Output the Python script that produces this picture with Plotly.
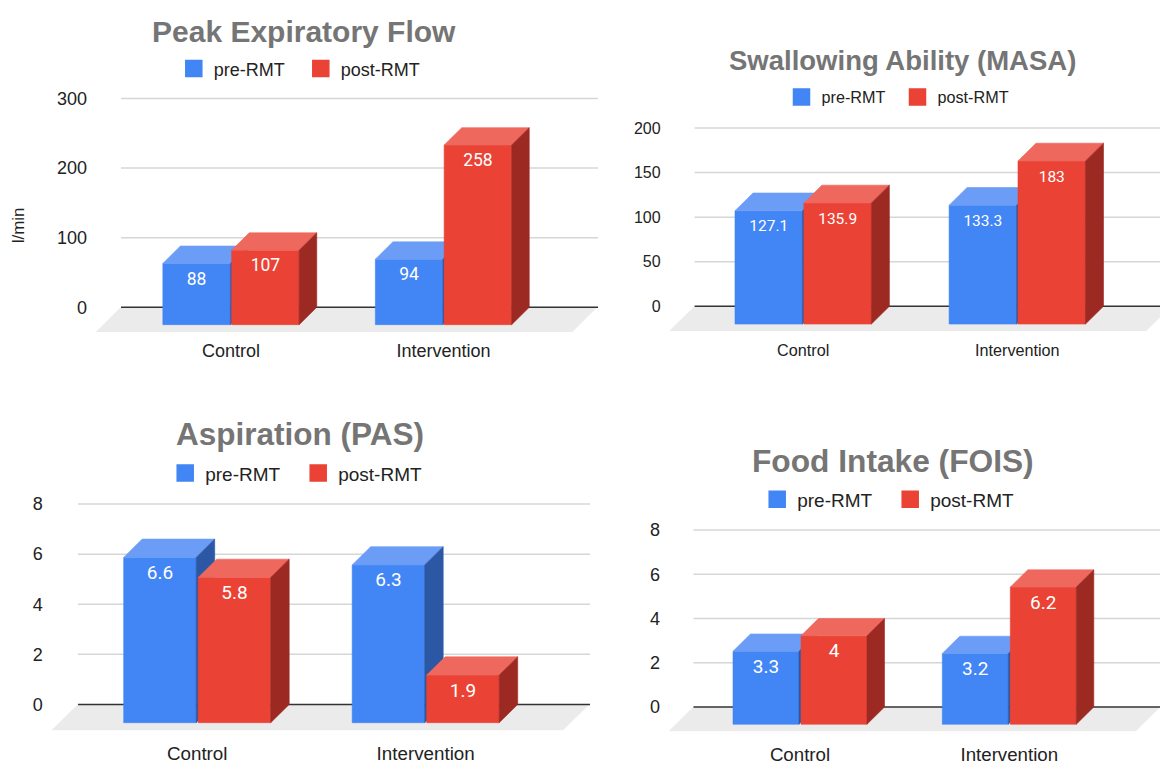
import plotly.graph_objects as go

W, H = 1160, 765

# ---- data -------------------------------------------------------------
categories = ["Control", "Intervention"]
series = ["pre-RMT", "post-RMT"]

pef_pre = [88, 94]
pef_post = [107, 258]
pef_ticks = [0, 100, 200, 300]

masa_pre = [127.1, 133.3]
masa_post = [135.9, 183]
masa_ticks = [0, 50, 100, 150, 200]

pas_pre = [6.6, 6.3]
pas_post = [5.8, 1.9]
pas_ticks = [0, 2, 4, 6, 8]

fois_pre = [3.3, 3.2]
fois_post = [4, 6.2]
fois_ticks = [0, 2, 4, 6, 8]

# ---- styling ----------------------------------------------------------
FONT = "Liberation Sans, Arial, Helvetica, sans-serif"
LABEL_FONT = "Roboto, Liberation Sans, sans-serif"
TEXT = "#222222"
TITLE = "#757575"

SHADES = [
    dict(front="#4285F4", top="#6B9DF6", side="#2C57A5"),
    dict(front="#EA4335", top="#EE685D", side="#9C2A22"),
]
FLOOR = "#EBEBEB"
GRID = "#D6D6D6"
BASELINE = "#333333"
LABEL_DROP = 17.0  # px from the top edge of a bar's front face to its label centre

# panel geometry in page pixels (x from left, y from top)
panels = [
    dict(title="Peak Expiratory Flow", data=(pef_pre, pef_post), ticks=pef_ticks, ytitle="l/min",
         zero=308.3, unit=211.6 / 300, cat0=231.0, step=212.5, bar=67.5, gap=1.3, depth=17.6,
         left=96.0, floor=25.0, floor_right=597.0, grid_right=598.0, right=600.0, top=88.0,
         title_at=(304.0, 28.8), title_size=30, legend_at=(193.8, 66.7), legend_size=18,
         legend_w=82, tick_size=18, cat_size=18, cat_standoff=6, label_size=17.5),
    dict(title="Swallowing Ability (MASA)", data=(masa_pre, masa_post), ticks=masa_ticks, ytitle=None,
         zero=307.3, unit=180.6 / 200, cat0=803.2, step=214.1, bar=67.5, gap=1.4, depth=18.0,
         left=669.6, floor=25.0, floor_right=1171.0, grid_right=1160.0, right=1160.0, top=120.0,
         title_at=(902.3, 57.8), title_size=27.5, legend_at=(801.5, 95.7), legend_size=16.2,
         legend_w=71, tick_size=16, cat_size=16.2, cat_standoff=8, label_size=15.5),
    dict(title="Aspiration (PAS)", data=(pas_pre, pas_post), ticks=pas_ticks, ytitle=None,
         zero=710.7, unit=203.0 / 8, cat0=197.2, step=228.5, bar=72.5, gap=2.0, depth=18.5,
         left=51.8, floor=26.2, floor_right=589.0, grid_right=590.0, right=592.0, top=500.0,
         title_at=(299.7, 437.2), title_size=31.5, legend_at=(185.2, 476.5), legend_size=19,
         legend_w=88, tick_size=18, cat_size=18.8, cat_standoff=10, label_size=19),
    dict(title="Food Intake (FOIS)", data=(fois_pre, fois_post), ticks=fois_ticks, ytitle=None,
         zero=713.3, unit=179.3 / 8, cat0=800.0, step=209.3, bar=66.0, gap=2.0, depth=17.5,
         left=669.0, floor=24.5, floor_right=1160.0, grid_right=1160.0, right=1160.0, top=527.0,
         title_at=(892.6, 463.8), title_size=31.7, legend_at=(777.2, 503.0), legend_size=19,
         legend_w=88, tick_size=18, cat_size=18.7, cat_standoff=10, label_size=19),
]

fig = go.Figure()
layout = dict(
    width=W, height=H, autosize=False,
    margin=dict(l=0, r=0, t=0, b=0, pad=0),
    paper_bgcolor="white", plot_bgcolor="rgba(0,0,0,0)",
    showlegend=True, annotations=[],
)


def poly(xs, ys, color, xa, ya):
    return go.Scatter(
        x=list(xs) + [xs[0]], y=list(ys) + [ys[0]], mode="lines", fill="toself",
        fillcolor=color, line=dict(color=color, width=0.6),
        xaxis=xa, yaxis=ya, showlegend=False, hoverinfo="skip",
    )


for i, p in enumerate(panels, start=1):
    sfx = "" if i == 1 else str(i)
    xa, ya = "x" + sfx, "y" + sfx
    bottom = p["zero"] + p["floor"]

    def x_of(px, p=p):
        return (px - p["cat0"]) / p["step"]

    def y_of(py, p=p):
        return (p["zero"] - py) / p["unit"]

    dx, dy = p["depth"] / p["step"], p["depth"] / p["unit"]
    fx, fy = p["floor"] / p["step"], p["floor"] / p["unit"]
    x_left, x_right = x_of(p["left"]), x_of(p["right"])
    x_back_left = x_left + fx
    x_grid_right = x_of(p["grid_right"])
    x_floor_right = x_of(p["floor_right"])

    # floor plane
    fig.add_trace(poly([x_left, x_floor_right - fx, x_floor_right, x_back_left],
                       [-fy, -fy, 0, 0], FLOOR, xa, ya))

    # gridlines on the back wall
    gx, gy = [], []
    for t in p["ticks"]:
        if t == 0:
            continue
        gx += [x_back_left, x_grid_right, None]
        gy += [t, t, None]
    fig.add_trace(go.Scatter(x=gx, y=gy, mode="lines", line=dict(color=GRID, width=1.5),
                             xaxis=xa, yaxis=ya, showlegend=False, hoverinfo="skip"))
    fig.add_trace(go.Scatter(x=[x_back_left, x_grid_right], y=[0, 0], mode="lines",
                             line=dict(color=BASELINE, width=1.5),
                             xaxis=xa, yaxis=ya, showlegend=False, hoverinfo="skip"))

    # 3-D bars, painted left to right
    lx, ly, lt = [], [], []
    for c in range(len(categories)):
        for j in range(len(series)):
            v = p["data"][j][c]
            off = -(p["bar"] + p["gap"] / 2) if j == 0 else p["gap"] / 2
            xl = c + off / p["step"]
            xr = xl + p["bar"] / p["step"]
            shade = SHADES[j]
            fig.add_trace(poly([xl, xr, xr, xl], [-dy, -dy, v - dy, v - dy], shade["front"], xa, ya))
            fig.add_trace(poly([xl, xr, xr + dx, xl + dx], [v - dy, v - dy, v, v], shade["top"], xa, ya))
            fig.add_trace(poly([xr, xr + dx, xr + dx, xr], [-dy, 0, v, v - dy], shade["side"], xa, ya))
            lx.append((xl + xr) / 2)
            ly.append(v - dy - LABEL_DROP / p["unit"])
            lt.append(f"{v:g}")

    fig.add_trace(go.Scatter(x=lx, y=ly, text=lt, mode="text", textposition="middle center",
                             textfont=dict(family=LABEL_FONT, size=p["label_size"], color="white"),
                             xaxis=xa, yaxis=ya, showlegend=False, hoverinfo="skip"))

    # legend entries
    for j, name in enumerate(series):
        col = SHADES[j]["front"]
        fig.add_trace(go.Scatter(
            x=[None], y=[None], mode="markers", name=name,
            marker=dict(symbol="square", size=16, color=col, line=dict(color=col, width=1.5)),
            legend="legend" + sfx, legendwidth=p["legend_w"] if j == 0 else None,
            xaxis=xa, yaxis=ya, showlegend=True, hoverinfo="skip",
        ))

    layout["xaxis" + sfx] = dict(
        domain=[p["left"] / W, p["right"] / W], range=[x_left, x_right], anchor=ya,
        tickmode="array", tickvals=list(range(len(categories))), ticktext=categories,
        showgrid=False, zeroline=False, showline=False, ticks="",
        ticklabelstandoff=int(p["cat_standoff"]),
        tickfont=dict(family=FONT, size=p["cat_size"], color=TEXT), fixedrange=True,
    )
    layout["yaxis" + sfx] = dict(
        domain=[1 - bottom / H, 1 - p["top"] / H], range=[y_of(bottom), y_of(p["top"])],
        anchor=xa, tickmode="array", tickvals=p["ticks"], ticktext=[f"{t:g}" for t in p["ticks"]],
        showgrid=False, zeroline=False, showline=False, ticks="", ticklabelstandoff=8,
        tickfont=dict(family=FONT, size=p["tick_size"], color=TEXT), fixedrange=True,
    )
    lgx, lgy = p["legend_at"]
    layout["legend" + sfx] = dict(
        orientation="h", x=(lgx - 20) / W, xanchor="left", y=1 - lgy / H, yanchor="middle",
        font=dict(family=FONT, size=p["legend_size"], color=TEXT),
        bgcolor="rgba(0,0,0,0)", borderwidth=0, itemsizing="trace", traceorder="normal",
    )

    tx, ty = p["title_at"]
    layout["annotations"].append(dict(
        text=f"<b>{p['title']}</b>", x=tx / W, y=1 - ty / H, xref="paper", yref="paper",
        xanchor="center", yanchor="middle", showarrow=False,
        font=dict(family=FONT, size=p["title_size"], color=TITLE),
    ))
    if p["ytitle"]:
        layout["annotations"].append(dict(
            text=p["ytitle"], x=18.3 / W, y=1 - 225 / H, xref="paper", yref="paper",
            xanchor="center", yanchor="middle", textangle=-90, showarrow=False,
            font=dict(family=FONT, size=17, color=TEXT),
        ))

fig.update_layout(**layout)
fig.write_html("out.html")
